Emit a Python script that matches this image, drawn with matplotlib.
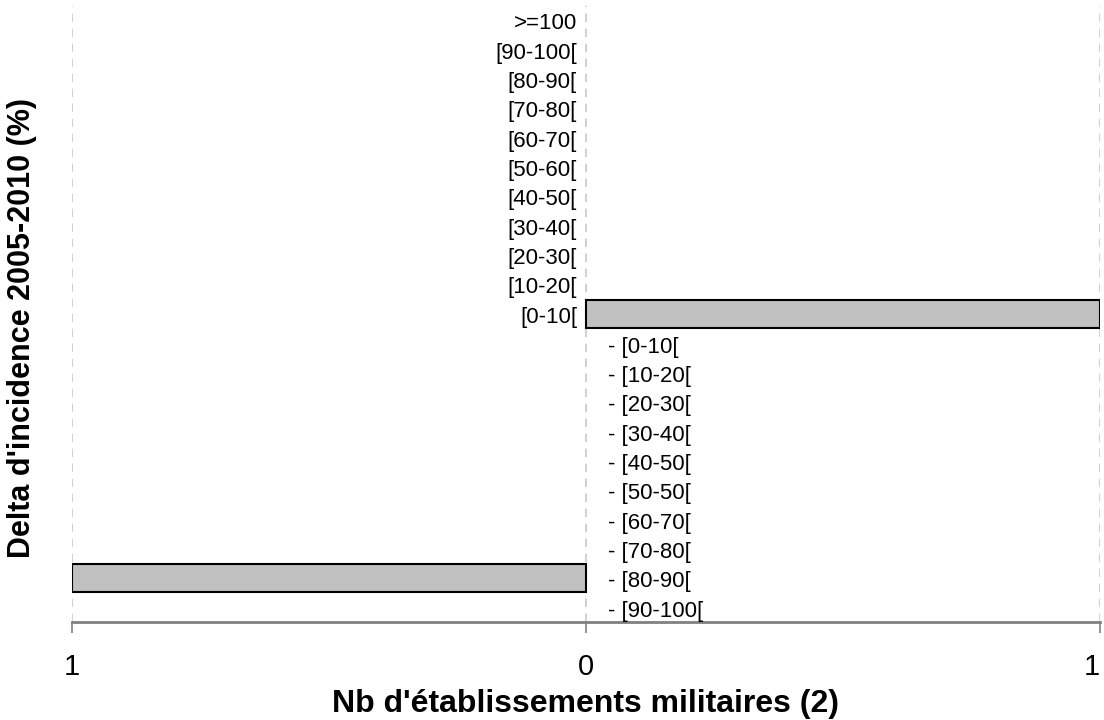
import matplotlib
matplotlib.use("Agg")
import matplotlib.pyplot as plt
from matplotlib.transforms import offset_copy

categories = [">=100", "[90-100[", "[80-90[", "[70-80[", "[60-70[", "[50-60[",
              "[40-50[", "[30-40[", "[20-30[", "[10-20[", "[0-10[",
              "- [0-10[", "- [10-20[", "- [20-30[", "- [30-40[", "- [40-50[",
              "- [50-50[", "- [60-70[", "- [70-80[", "- [80-90[", "- [90-100["]
values = [0, 0, 0, 0, 0, 0, 0, 0, 0, 0, 1,
          0, 0, 0, 0, 0, 0, 0, 0, -1, 0]
xticks = [-1, 0, 1]
xtick_labels = ["1", "0", "1"]

plt.rcParams['font.family'] = ['Liberation Sans', 'DejaVu Sans']

fig = plt.figure(figsize=(11.04, 7.2), dpi=100)
ax = fig.add_axes([72/1104, 1 - 622/720, (1100-72)/1104, (622-6)/720])

ypos = list(range(len(categories)))
nz_y = [y for y, v in zip(ypos, values) if v != 0]
nz_v = [v for v in values if v != 0]
ax.barh(nz_y, nz_v, height=0.97, color="#C0C0C0", edgecolor="black", linewidth=1.5, zorder=3)

ax.set_xlim(-1, 1)
ax.set_ylim(len(categories) - 0.5, -0.5)
ax.set_xticks(xticks)
ax.set_xticklabels(xtick_labels, fontsize=21)
ax.set_yticks([])
ax.tick_params(axis='x', length=8, width=1.2, color="#808080", pad=14)
lbls = ax.get_xticklabels()
lbls[-1].set_horizontalalignment('right')

for x in xticks:
    ax.axvline(x, color="#C8C8C8", linestyle=(0, (5, 4)), linewidth=1.2, zorder=1)

for sp in ["top", "right", "left"]:
    ax.spines[sp].set_visible(False)
ax.spines["bottom"].set_color("#808080")
ax.spines["bottom"].set_linewidth(2)

for y, lab in zip(ypos, categories):
    if lab.startswith("-"):
        tr = offset_copy(ax.transData, fig=fig, x=22, y=-4, units='dots')
        ax.text(0, y, lab, transform=tr, ha='left', va='center', fontsize=16, zorder=4)
    else:
        tr = offset_copy(ax.transData, fig=fig, x=-9, y=-3, units='dots')
        ax.text(0, y, lab, transform=tr, ha='right', va='center', fontsize=16, zorder=4)

ax.set_xlabel("Nb d'établissements militaires (2)", fontsize=23, fontweight='bold', labelpad=6)
fig.text(22/1104, 1 - 328/720, "Delta d'incidence 2005-2010 (%)", rotation=90,
         ha='center', va='center', fontsize=22, fontweight='bold')

fig.savefig("out.png", dpi=100)
